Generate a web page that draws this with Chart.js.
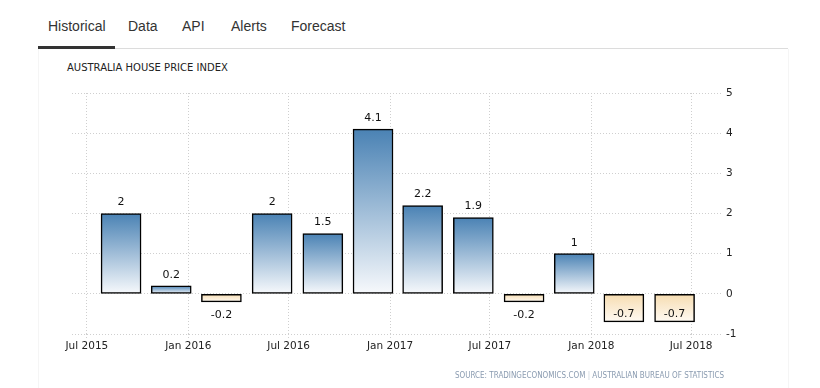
<!DOCTYPE html>
<html>
<head>
<meta charset="utf-8">
<script src="https://cdn.jsdelivr.net/npm/chart.js@4.4.1/dist/chart.umd.min.js"></script>
<style>
body { margin: 0; width: 820px; height: 388px; background: #fff; position: relative; overflow: hidden; font-family: 'Liberation Sans', Arial, sans-serif; }
.line { position: absolute; left: 38px; top: 48px; width: 750px; height: 1px; background: #dcdcdc; }
.active { position: absolute; left: 38px; top: 46px; width: 77px; height: 3px; background: #333; }
.tab { position: absolute; top: 18px; font-size: 14px; line-height: 16px; color: #333; white-space: nowrap; }
.panel { position: absolute; left: 38px; top: 49px; width: 749px; height: 339px; border-left: 1px solid #f5f5f5; border-right: 1px solid #f5f5f5; }
#title { position: absolute; left: 67px; top: 62px; font: 10px 'DejaVu Sans', sans-serif; color: #222; white-space: nowrap; }
#source { position: absolute; right: 96px; top: 371px; font: 8px 'DejaVu Sans Condensed', sans-serif; color: #8a9bb0; white-space: nowrap; }
#source span { color: #c8d0da; }
#wrap { position: absolute; left: 0; top: 0; width: 820px; height: 388px; }
</style>
</head>
<body>
<div class="panel"></div>
<div class="line"></div>
<div class="active"></div>
<div class="tab" style="left:48px">Historical</div>
<div class="tab" style="left:128px">Data</div>
<div class="tab" style="left:182px">API</div>
<div class="tab" style="left:231px">Alerts</div>
<div class="tab" style="left:291px">Forecast</div>
<div id="title">AUSTRALIA HOUSE PRICE INDEX</div>
<div id="wrap"><canvas id="myChart" width="820" height="388"></canvas></div>
<div id="source">SOURCE: TRADINGECONOMICS.COM <span>|</span> AUSTRALIAN BUREAU OF STATISTICS</div>
<script>
// quarterly % change, placed on the axis by date
const dates = ['2015-09-01', '2015-12-01', '2016-03-01', '2016-06-01', '2016-09-01', '2016-12-01',
               '2017-03-01', '2017-06-01', '2017-09-01', '2017-12-01', '2018-03-01', '2018-06-01'];
const values = [2, 0.2, -0.2, 2, 1.5, 4.1, 2.2, 1.9, -0.2, 1, -0.7, -0.7];
const tickDates = ['2015-07-01', '2016-01-01', '2016-07-01', '2017-01-01', '2017-07-01', '2018-01-01', '2018-07-01'];
const yTicks = [-1, 0, 1, 2, 3, 4, 5];

const months = ['Jan','Feb','Mar','Apr','May','Jun','Jul','Aug','Sep','Oct','Nov','Dec'];
function dayOf(s) { return Date.parse(s + 'T00:00:00Z') / 864e5; }
function dayLabel(d) {
    const dt = new Date(Math.round(d) * 864e5);
    return months[dt.getUTCMonth()] + ' ' + dt.getUTCFullYear();
}

const points = dates.map((d, i) => ({ x: dayOf(d), y: values[i] }));
const tickDays = tickDates.map(dayOf);

function barFill(c) {
    const chart = c.chart;
    if (!chart.chartArea || c.type !== 'data') return '#4a82b4';
    const ys = chart.scales.y;
    const v = c.raw.y;
    const top = ys.getPixelForValue(Math.max(v, 0));
    const bot = ys.getPixelForValue(Math.min(v, 0));
    const g = chart.ctx.createLinearGradient(0, top, 0, bot);
    if (v >= 0) {
        g.addColorStop(0, '#4a82b4');
        g.addColorStop(1, '#f7f9fc');
    } else {
        g.addColorStop(0, '#f6dcb0');
        g.addColorStop(1, '#fffaf3');
    }
    return g;
}

const valueLabels = {
    id: 'valueLabels',
    afterDatasetsDraw(chart) {
        const ctx = chart.ctx;
        const area = chart.chartArea;
        ctx.save();
        ctx.font = '11px "DejaVu Sans"';
        ctx.fillStyle = '#111';
        ctx.textAlign = 'center';
        ctx.textBaseline = 'middle';
        chart.getDatasetMeta(0).data.forEach((bar, i) => {
            const v = values[i];
            let y;
            if (v >= 0) y = bar.y - 11;
            else {
                y = bar.y + 13;
                if (y + 6 > area.bottom) y = bar.y - 8;
            }
            ctx.fillText(String(v), bar.x, y);
        });
        ctx.restore();
    }
};

const gridColor = '#cfcfcf';

new Chart(document.getElementById('myChart').getContext('2d'), {
    type: 'bar',
    data: {
        datasets: [{
            data: points,
            backgroundColor: barFill,
            borderColor: '#000',
            borderWidth: 1.5,
            borderSkipped: false,
            barThickness: 40
        }]
    },
    options: {
        responsive: false,
        animation: false,
        events: [],
        layout: { padding: { left: 72, top: 93, right: 68, bottom: 30 } },
        plugins: { legend: { display: false }, tooltip: { enabled: false } },
        scales: {
            x: {
                type: 'linear',
                offset: false,
                min: tickDays[0] - 27,
                max: tickDays[tickDays.length - 1] + 56,
                afterBuildTicks: s => { s.ticks = tickDays.map(v => ({ value: v })); },
                afterFit: s => { s.height = 24; },
                grid: { offset: false, color: gridColor, tickLength: 4, tickColor: gridColor, tickBorderDash: [1, 2] },
                border: { display: false, dash: [1, 2] },
                ticks: {
                    callback: v => dayLabel(v),
                    maxRotation: 0, autoSkip: false, padding: 2,
                    color: '#222', font: { family: 'DejaVu Sans', size: 10.5 }
                }
            },
            y: {
                position: 'right',
                min: -1, max: 5,
                afterBuildTicks: s => { s.ticks = yTicks.map(v => ({ value: v })); },
                afterFit: s => { s.width = 30; },
                grid: { color: gridColor, drawTicks: false },
                border: { display: false, dash: [1, 2] },
                ticks: { padding: 4, color: '#222', font: { family: 'DejaVu Sans', size: 10.5 } }
            }
        }
    },
    plugins: [valueLabels]
});
</script>
</body>
</html>
